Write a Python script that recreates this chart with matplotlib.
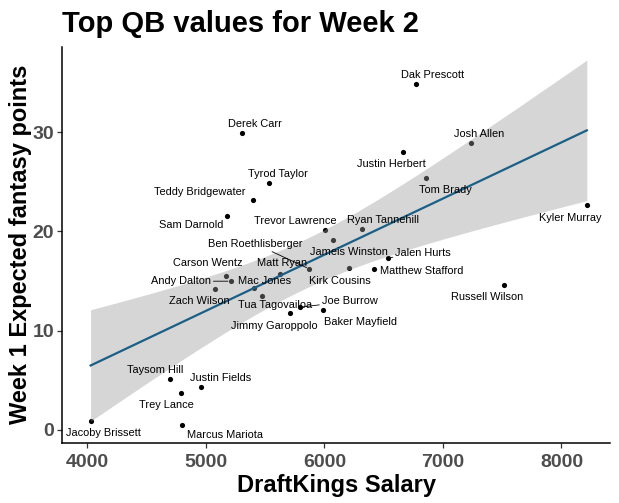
import numpy as np
import matplotlib
matplotlib.use("Agg")
import matplotlib.pyplot as plt

plt.rcParams['font.family'] = ['Liberation Sans', 'DejaVu Sans']

# ---- data ----
names = ["Dak Prescott", "Josh Allen", "Justin Herbert", "Tom Brady", "Kyler Murray",
         "Derek Carr", "Tyrod Taylor", "Teddy Bridgewater", "Sam Darnold", "Trevor Lawrence",
         "Jameis Winston", "Ryan Tannehill", "Jalen Hurts", "Matthew Stafford", "Kirk Cousins",
         "Ben Roethlisberger", "Matt Ryan", "Carson Wentz", "Andy Dalton", "Mac Jones",
         "Zach Wilson", "Tua Tagovailoa", "Joe Burrow", "Jimmy Garoppolo", "Baker Mayfield",
         "Russell Wilson", "Taysom Hill", "Justin Fields", "Trey Lance", "Jacoby Brissett",
         "Marcus Mariota"]
salary = [6776, 7241, 6667, 6861, 8214,
          5308, 5536, 5401, 5181, 6008,
          6076, 6321, 6540, 6422, 6211,
          5873, 5626, 5168, 5210, 5409,
          5080, 5477, 5795, 5708, 5992,
          7519, 4700, 4962, 4793, 4029,
          4802]
exp_points = [34.85, 28.9, 28.0, 25.37, 22.65,
              29.9, 24.87, 23.16, 21.54, 20.13,
              19.12, 20.23, 17.34, 16.2, 16.3,
              16.23, 15.73, 15.55, 14.99, 14.28,
              14.18, 13.54, 12.37, 11.82, 12.07,
              14.59, 5.11, 4.33, 3.7, 0.91,
              0.47]
x_ticks = [4000, 5000, 6000, 7000, 8000]
y_ticks = [0, 10, 20, 30]

# ---- label layout (pixel offsets from point: dx right, dy down) ----
label_offsets = {
    "Dak Prescott": (16, -9), "Josh Allen": (8, -9), "Justin Herbert": (-12, 12),
    "Tom Brady": (19, 12), "Kyler Murray": (-17, 13), "Derek Carr": (13, -9),
    "Tyrod Taylor": (9, -9), "Teddy Bridgewater": (-54, -8), "Sam Darnold": (-36, 9),
    "Trevor Lawrence": (-30, -9), "Jameis Winston": (16, 12), "Ryan Tannehill": (21, -9),
    "Jalen Hurts": (35, -5), "Matthew Stafford": (47, 2), "Kirk Cousins": (-9, 13),
    "Ben Roethlisberger": (-54, -25), "Matt Ryan": (2, -11), "Carson Wentz": (-18, -13),
    "Andy Dalton": (-50, 0), "Mac Jones": (10, -7), "Zach Wilson": (-16, 12),
    "Tua Tagovailoa": (13, 9), "Joe Burrow": (50, -6), "Jimmy Garoppolo": (-15, 13),
    "Baker Mayfield": (37, 12), "Russell Wilson": (-17, 12), "Taysom Hill": (-15, -9),
    "Justin Fields": (19, -9), "Trey Lance": (-15, 12), "Jacoby Brissett": (13, 12),
    "Marcus Mariota": (43, 10),
}
segment_labels = {"Andy Dalton", "Ben Roethlisberger", "Jalen Hurts", "Joe Burrow"}

x = np.array(salary, dtype=float)
y = np.array(exp_points, dtype=float)

# linear fit with 95% confidence band
n = len(x)
b1, b0 = np.polyfit(x, y, 1)
resid = y - (b0 + b1 * x)
s = np.sqrt(np.sum(resid ** 2) / (n - 2))
t_crit = 2.045  # t(0.975, df=29)
xg = np.linspace(x.min(), x.max(), 80)
yg = b0 + b1 * xg
se = s * np.sqrt(1.0 / n + (xg - x.mean()) ** 2 / np.sum((x - x.mean()) ** 2))
lo, hi = yg - t_crit * se, yg + t_crit * se

fig = plt.figure(figsize=(6.19, 5.03), dpi=100)
ax = fig.add_axes([0.1006, 0.1199, 0.885, 0.787])

ax.scatter(x, y, s=14, color='black', zorder=2, linewidths=0)
ax.fill_between(xg, lo, hi, color='#999999', alpha=0.4, linewidth=0, zorder=3)
ax.plot(xg, yg, color='#1b5f86', lw=1.6, zorder=4)

for nm, xi, yi in zip(names, x, y):
    dx, dy = label_offsets[nm]
    if nm in segment_labels:
        ax.annotate(nm, (xi, yi), xytext=(dx, -dy), textcoords='offset pixels',
                    ha='center', va='center', fontsize=7.9, color='black', zorder=5,
                    arrowprops=dict(arrowstyle='-', lw=0.6, color='black',
                                    shrinkA=0, shrinkB=2))
    else:
        ax.annotate(nm, (xi, yi), xytext=(dx, -dy), textcoords='offset pixels',
                    ha='center', va='center', fontsize=7.9, color='black', zorder=5)

ax.set_xlim(3790, 8410)
ax.set_ylim(-1.28, 38.6)
ax.set_xticks(x_ticks)
ax.set_yticks(y_ticks)
ax.set_xticklabels([str(v) for v in x_ticks])
ax.set_yticklabels([str(v) for v in y_ticks])
for sp in ['top', 'right']:
    ax.spines[sp].set_visible(False)
for sp in ['left', 'bottom']:
    ax.spines[sp].set_linewidth(1.1)
    ax.spines[sp].set_color('black')
ax.tick_params(axis='both', length=3.5, width=0.9, color='#333333',
               labelsize=14, labelcolor='#4D4D4D')
ax.tick_params(axis='x', pad=5)
ax.tick_params(axis='y', pad=2.5)
for lab in ax.get_xticklabels() + ax.get_yticklabels():
    lab.set_fontweight('bold')

ax.set_xlabel("DraftKings Salary", fontsize=17, fontweight='bold', labelpad=2)
ax.set_ylabel("Week 1 Expected fantasy points", fontsize=17, fontweight='bold', labelpad=0)
fig.text(0.1006, 1 - 32 / 503, "Top QB values for Week 2", fontsize=21,
         fontweight='bold', ha='left', va='baseline')

fig.savefig("out.png", dpi=100)
